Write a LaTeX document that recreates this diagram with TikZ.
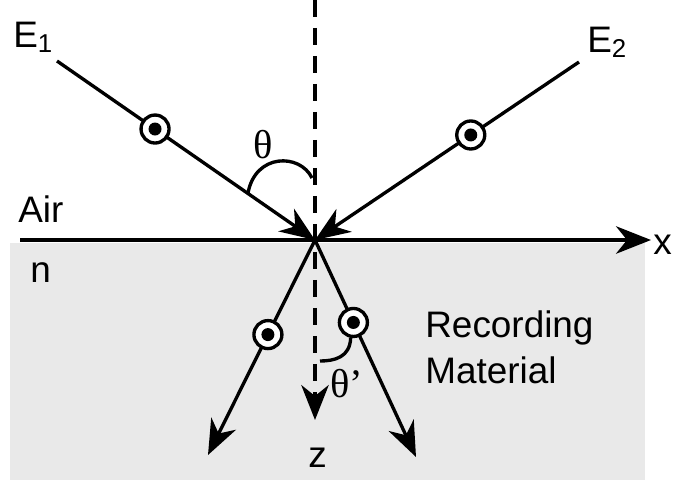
\documentclass[tikz,border=0pt]{standalone}
\usepackage{fontspec}
\setmainfont{Liberation Sans}
\newfontfamily\griega{Liberation Serif}
\usetikzlibrary{arrows.meta}
\definecolor{fondo}{HTML}{E9E9E9}
\tikzset{
  rayo/.style={-{Stealth[length=7mm,width=5.5mm,inset=2.2mm]},line width=1.9pt},
  eje/.style={-{Stealth[length=7mm,width=5.5mm,inset=2.2mm]},line width=1.9pt},
  ejez/.style={eje,dash pattern=on 3.4mm off 2.2mm},
  polo/.style={circle,draw,line width=1.9pt,fill=white,minimum size=5.6mm,inner sep=0pt,
    path picture={\fill[black] (path picture bounding box.center) circle (1.3mm);}},
  etiqueta/.style={font=\fontsize{21}{25}\selectfont,inner sep=0pt,anchor=base west},
  angulo/.style={font=\griega\fontsize{23}{27}\selectfont,inner sep=0pt},
  arco/.style={line width=1.9pt},
}
\begin{document}
\begin{tikzpicture}[x=0.02cm,y=-0.02cm]
  \useasboundingbox (0,0) rectangle (673,484);
  \fill[fondo] (10,243) rectangle (645,480);
  \coordinate (o) at (315,240);
  \coordinate (e1) at (57,61);
  \coordinate (e2) at (579,62);
  \coordinate (t1) at (208,455);
  \coordinate (t2) at (416,457);
  \coordinate (xa) at (20,240);
  \coordinate (xb) at (651,240);
  \coordinate (za) at (315,0);
  \coordinate (zb) at (315,420);
  \draw[eje] (xa) -- (xb);
  \draw[ejez] (za) -- (zb);
  \draw[rayo] (e1) -- (o) node[polo,pos=0.38] (p1) {} node[coordinate,pos=0.74] (th1) {};
  \draw[rayo] (e2) -- (o) node[polo,pos=0.41] (p2) {};
  \draw[rayo] (o) -- (t1) node[polo,pos=0.44] (p3) {};
  \draw[rayo] (o) -- (t2) node[polo,pos=0.38] (p4) {};
  \draw[arco] (th1) .. controls (255,153) and (300,153) .. (312,178);
  \draw[arco] (p4.-100) .. controls (350,357) and (335,361) .. (320,361);
  \node[angulo] (th) at (263,145) {θ};
  \node[angulo] (thp) at (347,384) {θ’};
  \node[etiqueta] (le1) at (13,47) {E\textsubscript{1}};
  \node[etiqueta] (le2) at (587,52) {E\textsubscript{2}};
  \node[etiqueta] (aire) at (18,222) {Air};
  \node[etiqueta] (n) at (30,282) {n};
  \node[etiqueta] (lx) at (653,254) {x};
  \node[etiqueta] (lz) at (308,467) {z};
  \node[etiqueta] (rec) at (425,337) {Recording};
  \node[etiqueta] (mat) at (425,383) {Material};
\end{tikzpicture}
\end{document}
